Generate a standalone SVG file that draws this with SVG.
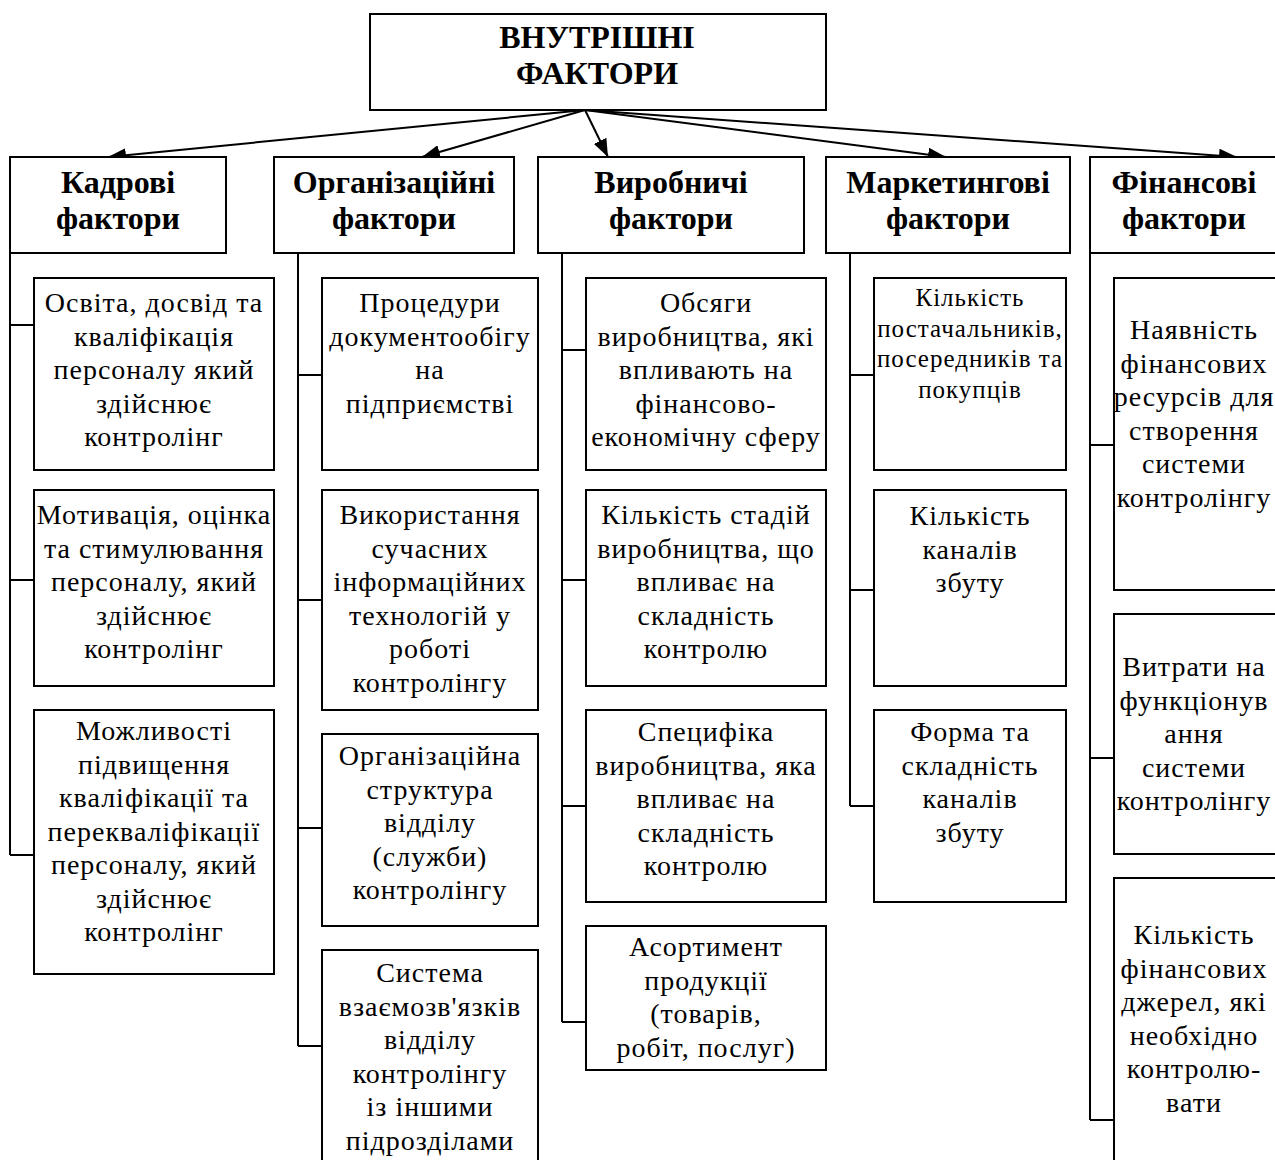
<svg xmlns="http://www.w3.org/2000/svg" width="1275" height="1160" viewBox="0 0 1275 1160">
<style>
.b{fill:#fff;stroke:#000;stroke-width:2}
.h{font-family:"Liberation Serif",serif;font-weight:bold;font-size:32px;text-anchor:middle;fill:#000}
.t{font-family:"Liberation Serif",serif;font-size:28px;letter-spacing:1px;text-anchor:middle;fill:#000}
.s{font-family:"Liberation Serif",serif;font-size:25px;letter-spacing:1px;text-anchor:middle;fill:#000}
.c{fill:none;stroke:#000;stroke-width:2}
.a{fill:none;stroke:#000;stroke-width:2;marker-end:url(#ah)}
</style>
<defs>
<marker id="ah" viewBox="0 0 18 14" refX="18" refY="7" markerWidth="18" markerHeight="14" markerUnits="userSpaceOnUse" orient="auto">
<path d="M0,0 L18,7 L0,14 Z" fill="#000"/>
</marker>
</defs>
<rect width="1275" height="1160" fill="#fff"/>
<g id="connectors">
<line class="a" x1="585" y1="110" x2="108" y2="157"/>
<line class="a" x1="585" y1="110" x2="422" y2="157"/>
<line class="a" x1="585" y1="110" x2="608" y2="157"/>
<line class="a" x1="585" y1="110" x2="946" y2="157"/>
<line class="a" x1="585" y1="110" x2="1237" y2="157"/>
<path class="c" d="M10,253 V855 M10,325 H34 M10,580 H34 M10,855 H34"/>
<path class="c" d="M298,253 V1046 M298,375 H322 M298,600 H322 M298,828 H322 M298,1046 H322"/>
<path class="c" d="M562,253 V1022 M562,350 H586 M562,580 H586 M562,806 H586 M562,1022 H586"/>
<path class="c" d="M850,253 V806 M850,375 H874 M850,590 H874 M850,806 H874"/>
<path class="c" d="M1090,253 V1120 M1090,445 H1114 M1090,758 H1114 M1090,1120 H1114"/>
</g>
<g id="root"><rect class="b" x="370" y="14" width="456" height="96"/>
<text class="h"><tspan x="597" y="48">ВНУТРІШНІ</tspan><tspan x="597" y="84">ФАКТОРИ</tspan></text></g>

<g id="kadrovi"><rect class="b" x="10" y="157" width="216" height="96"/>
<text class="h"><tspan x="118" y="193">Кадрові</tspan><tspan x="118" y="229">фактори</tspan></text></g>
<g id="k1"><rect class="b" x="34" y="278" width="240" height="192"/>
<text class="t"><tspan x="154" y="312">Освіта, досвід та</tspan><tspan x="154" y="345.5">кваліфікація</tspan><tspan x="154" y="379">персоналу який</tspan><tspan x="154" y="412.5">здійснює</tspan><tspan x="154" y="446">контролінг</tspan></text></g>
<g id="k2"><rect class="b" x="34" y="490" width="240" height="196"/>
<text class="t"><tspan x="154" y="524">Мотивація, оцінка</tspan><tspan x="154" y="557.5">та стимулювання</tspan><tspan x="154" y="591">персоналу, який</tspan><tspan x="154" y="624.5">здійснює</tspan><tspan x="154" y="658">контролінг</tspan></text></g>
<g id="k3"><rect class="b" x="34" y="710" width="240" height="264"/>
<text class="t"><tspan x="154" y="740">Можливості</tspan><tspan x="154" y="773.5">підвищення</tspan><tspan x="154" y="807">кваліфікації та</tspan><tspan x="154" y="840.5">перекваліфікації</tspan><tspan x="154" y="874">персоналу, який</tspan><tspan x="154" y="907.5">здійснює</tspan><tspan x="154" y="941">контролінг</tspan></text></g>

<g id="org"><rect class="b" x="274" y="157" width="240" height="96"/>
<text class="h"><tspan x="394" y="193">Організаційні</tspan><tspan x="394" y="229">фактори</tspan></text></g>
<g id="o1"><rect class="b" x="322" y="278" width="216" height="192"/>
<text class="t"><tspan x="430" y="312">Процедури</tspan><tspan x="430" y="345.5">документообігу</tspan><tspan x="430" y="379">на</tspan><tspan x="430" y="412.5">підприємстві</tspan></text></g>
<g id="o2"><rect class="b" x="322" y="490" width="216" height="220"/>
<text class="t"><tspan x="430" y="524">Використання</tspan><tspan x="430" y="557.5">сучасних</tspan><tspan x="430" y="591">інформаційних</tspan><tspan x="430" y="624.5">технологій у</tspan><tspan x="430" y="658">роботі</tspan><tspan x="430" y="691.5">контролінгу</tspan></text></g>
<g id="o3"><rect class="b" x="322" y="734" width="216" height="192"/>
<text class="t"><tspan x="430" y="765">Організаційна</tspan><tspan x="430" y="798.5">структура</tspan><tspan x="430" y="832">відділу</tspan><tspan x="430" y="865.5">(служби)</tspan><tspan x="430" y="899">контролінгу</tspan></text></g>
<g id="o4"><rect class="b" x="322" y="950" width="216" height="220"/>
<text class="t"><tspan x="430" y="982">Система</tspan><tspan x="430" y="1015.5">взаємозв'язків</tspan><tspan x="430" y="1049">відділу</tspan><tspan x="430" y="1082.5">контролінгу</tspan><tspan x="430" y="1116">із іншими</tspan><tspan x="430" y="1149.5">підрозділами</tspan></text></g>

<g id="vyr"><rect class="b" x="538" y="157" width="266" height="96"/>
<text class="h"><tspan x="671" y="193">Виробничі</tspan><tspan x="671" y="229">фактори</tspan></text></g>
<g id="v1"><rect class="b" x="586" y="278" width="240" height="192"/>
<text class="t"><tspan x="706" y="312">Обсяги</tspan><tspan x="706" y="345.5">виробництва, які</tspan><tspan x="706" y="379">впливають на</tspan><tspan x="706" y="412.5">фінансово-</tspan><tspan x="706" y="446">економічну сферу</tspan></text></g>
<g id="v2"><rect class="b" x="586" y="490" width="240" height="196"/>
<text class="t"><tspan x="706" y="524">Кількість стадій</tspan><tspan x="706" y="557.5">виробництва, що</tspan><tspan x="706" y="591">впливає на</tspan><tspan x="706" y="624.5">складність</tspan><tspan x="706" y="658">контролю</tspan></text></g>
<g id="v3"><rect class="b" x="586" y="710" width="240" height="192"/>
<text class="t"><tspan x="706" y="741">Специфіка</tspan><tspan x="706" y="774.5">виробництва, яка</tspan><tspan x="706" y="808">впливає на</tspan><tspan x="706" y="841.5">складність</tspan><tspan x="706" y="875">контролю</tspan></text></g>
<g id="v4"><rect class="b" x="586" y="926" width="240" height="144"/>
<text class="t"><tspan x="706" y="956">Асортимент</tspan><tspan x="706" y="989.5">продукції</tspan><tspan x="706" y="1023">(товарів,</tspan><tspan x="706" y="1056.5">робіт, послуг)</tspan></text></g>

<g id="mark"><rect class="b" x="826" y="157" width="244" height="96"/>
<text class="h"><tspan x="948" y="193">Маркетингові</tspan><tspan x="948" y="229">фактори</tspan></text></g>
<g id="m1"><rect class="b" x="874" y="278" width="192" height="192"/>
<text class="s"><tspan x="970" y="306">Кількість</tspan><tspan x="970" y="337">постачальників,</tspan><tspan x="970" y="367">посередників та</tspan><tspan x="970" y="398">покупців</tspan></text></g>
<g id="m2"><rect class="b" x="874" y="490" width="192" height="196"/>
<text class="t"><tspan x="970" y="525">Кількість</tspan><tspan x="970" y="558.5">каналів</tspan><tspan x="970" y="592">збуту</tspan></text></g>
<g id="m3"><rect class="b" x="874" y="710" width="192" height="192"/>
<text class="t"><tspan x="970" y="741">Форма та</tspan><tspan x="970" y="774.5">складність</tspan><tspan x="970" y="808">каналів</tspan><tspan x="970" y="841.5">збуту</tspan></text></g>

<g id="fin"><rect class="b" x="1090" y="157" width="200" height="96"/>
<text class="h"><tspan x="1184" y="193">Фінансові</tspan><tspan x="1184" y="229">фактори</tspan></text></g>
<g id="f1"><rect class="b" x="1114" y="278" width="180" height="312"/>
<text class="t"><tspan x="1194" y="339">Наявність</tspan><tspan x="1194" y="372.5">фінансових</tspan><tspan x="1194" y="406">ресурсів для</tspan><tspan x="1194" y="439.5">створення</tspan><tspan x="1194" y="473">системи</tspan><tspan x="1194" y="506.5">контролінгу</tspan></text></g>
<g id="f2"><rect class="b" x="1114" y="614" width="180" height="240"/>
<text class="t"><tspan x="1194" y="676">Витрати на</tspan><tspan x="1194" y="709.5">функціонув</tspan><tspan x="1194" y="743">ання</tspan><tspan x="1194" y="776.5">системи</tspan><tspan x="1194" y="810">контролінгу</tspan></text></g>
<g id="f3"><rect class="b" x="1114" y="878" width="180" height="300"/>
<text class="t"><tspan x="1194" y="944">Кількість</tspan><tspan x="1194" y="977.5">фінансових</tspan><tspan x="1194" y="1011">джерел, які</tspan><tspan x="1194" y="1044.5">необхідно</tspan><tspan x="1194" y="1078">контролю-</tspan><tspan x="1194" y="1111.5">вати</tspan></text></g>
</svg>
